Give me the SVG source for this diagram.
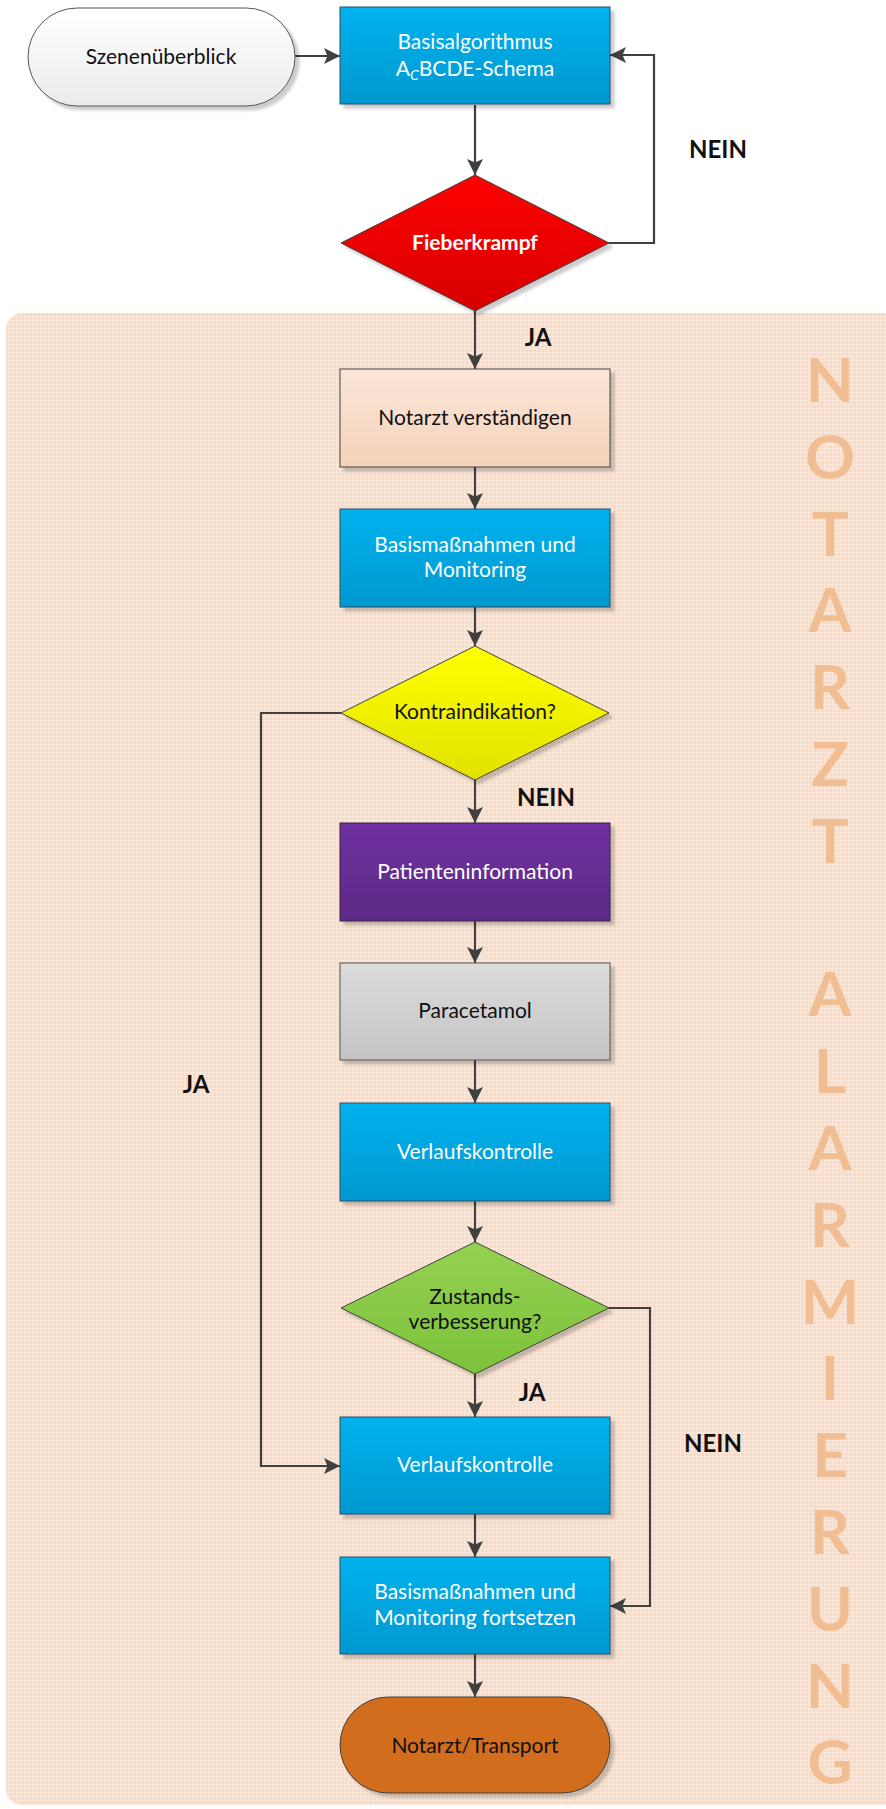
<svg xmlns="http://www.w3.org/2000/svg" width="886" height="1809" viewBox="0 0 886 1809">
<defs>
<style>
.t{font-family:Lato,"Open Sans","Liberation Sans",sans-serif;font-size:21px;text-anchor:middle}
.w{fill:#ffffff}
.k{fill:#111111}
.b{font-family:Lato,"Open Sans","Liberation Sans",sans-serif;font-weight:bold;font-size:24px;fill:#111111;text-anchor:middle}
.big{font-family:Lato,"Open Sans","Liberation Sans",sans-serif;font-weight:bold;font-size:62px;fill:#F1BE94;text-anchor:middle}
.c{fill:none;stroke:#404040;stroke-width:2.2}
.sh{filter:url(#shadow)}
</style>
<pattern id="grid" width="4" height="4" patternUnits="userSpaceOnUse">
<rect width="4" height="4" fill="#F8DBC5"/>
<rect width="4" height="1" fill="#FBE8DA"/>
<rect width="1" height="4" fill="#FBE8DA"/>
</pattern>
<linearGradient id="gBlue" x1="0" y1="0" x2="0" y2="1"><stop offset="0" stop-color="#00B2EE"/><stop offset="1" stop-color="#0098D0"/></linearGradient>
<linearGradient id="gWhite" x1="0" y1="0" x2="0" y2="1"><stop offset="0" stop-color="#FFFFFF"/><stop offset="1" stop-color="#EBEBEB"/></linearGradient>
<linearGradient id="gRed" x1="0" y1="0" x2="0" y2="1"><stop offset="0" stop-color="#FF0000"/><stop offset="1" stop-color="#D80000"/></linearGradient>
<linearGradient id="gPeach" x1="0" y1="0" x2="0" y2="1"><stop offset="0" stop-color="#FAE6D8"/><stop offset="1" stop-color="#F5D2BA"/></linearGradient>
<linearGradient id="gYellow" x1="0" y1="0" x2="0" y2="1"><stop offset="0" stop-color="#FFFF00"/><stop offset="1" stop-color="#E2E200"/></linearGradient>
<linearGradient id="gPurple" x1="0" y1="0" x2="0" y2="1"><stop offset="0" stop-color="#7030A0"/><stop offset="1" stop-color="#5C2A86"/></linearGradient>
<linearGradient id="gGrey" x1="0" y1="0" x2="0" y2="1"><stop offset="0" stop-color="#DCDCDC"/><stop offset="1" stop-color="#C4C4C4"/></linearGradient>
<linearGradient id="gGreen" x1="0" y1="0" x2="0" y2="1"><stop offset="0" stop-color="#95D152"/><stop offset="1" stop-color="#7CC23A"/></linearGradient>
<filter id="shadow" x="-10%" y="-10%" width="130%" height="130%">
<feDropShadow dx="4" dy="4" stdDeviation="1.5" flood-color="#000000" flood-opacity="0.2"/>
</filter>
<marker id="arr" markerUnits="userSpaceOnUse" markerWidth="18" markerHeight="18" refX="16" refY="8" orient="auto">
<path d="M0,0 L16,8 L0,16 L3.5,8 Z" fill="#404040"/>
</marker>
</defs>

<rect x="0" y="0" width="886" height="1809" fill="#FFFFFF"/>
<g id="background">
<rect x="6" y="313" width="896" height="1492" rx="16" fill="url(#grid)"/>
<text class="big" x="830" y="402">N</text>
<text class="big" x="830" y="479">O</text>
<text class="big" x="830" y="556">T</text>
<text class="big" x="830" y="632">A</text>
<text class="big" x="830" y="709">R</text>
<text class="big" x="830" y="786">Z</text>
<text class="big" x="830" y="863">T</text>
<text class="big" x="830" y="1016">A</text>
<text class="big" x="830" y="1093">L</text>
<text class="big" x="830" y="1170">A</text>
<text class="big" x="830" y="1247">R</text>
<text class="big" x="830" y="1324">M</text>
<text class="big" x="830" y="1400">I</text>
<text class="big" x="830" y="1477">E</text>
<text class="big" x="830" y="1554">R</text>
<text class="big" x="830" y="1631">U</text>
<text class="big" x="830" y="1708">N</text>
<text class="big" x="830" y="1784">G</text>
</g>

<g id="connectors">
<path class="c" d="M295,56 L340,56" marker-end="url(#arr)"/>
<path class="c" d="M475,105 L475,175" marker-end="url(#arr)"/>
<path class="c" d="M609,243 L654,243 L654,55 L610,55" marker-end="url(#arr)"/>
<path class="c" d="M475,311 L475,369" marker-end="url(#arr)"/>
<path class="c" d="M475,467 L475,509" marker-end="url(#arr)"/>
<path class="c" d="M475,607 L475,646" marker-end="url(#arr)"/>
<path class="c" d="M475,780 L475,823" marker-end="url(#arr)"/>
<path class="c" d="M341,713 L261,713 L261,1466 L340,1466" marker-end="url(#arr)"/>
<path class="c" d="M475,921 L475,963" marker-end="url(#arr)"/>
<path class="c" d="M475,1060 L475,1103" marker-end="url(#arr)"/>
<path class="c" d="M475,1201 L475,1242" marker-end="url(#arr)"/>
<path class="c" d="M475,1374 L475,1417" marker-end="url(#arr)"/>
<path class="c" d="M609,1308 L650,1308 L650,1606 L610,1606" marker-end="url(#arr)"/>
<path class="c" d="M475,1514 L475,1557" marker-end="url(#arr)"/>
<path class="c" d="M475,1654 L475,1697" marker-end="url(#arr)"/>
<text class="b" x="718" y="158">NEIN</text>
<text class="b" x="538" y="346">JA</text>
<text class="b" x="546" y="806">NEIN</text>
<text class="b" x="196" y="1093">JA</text>
<text class="b" x="532" y="1401">JA</text>
<text class="b" x="713" y="1452">NEIN</text>
</g>

<g id="n-szenen">
<rect class="sh" x="28" y="8" width="267" height="98" rx="49" fill="url(#gWhite)" stroke="#555555" stroke-width="1"/>
<text class="t k" x="161" y="64">Szenenüberblick</text>
</g>
<g id="n-basisalgorithmus">
<rect class="sh" x="340" y="7" width="270" height="97" fill="url(#gBlue)" stroke="#2E4D66" stroke-width="1"/>
<text class="t w" x="475" y="49">Basisalgorithmus</text>
<text class="t w" x="475" y="76">A<tspan font-size="14" font-style="italic" dy="4">C</tspan><tspan dy="-4">BCDE-Schema</tspan></text>
</g>
<g id="n-fieberkrampf">
<polygon class="sh" points="475,175 609,243 475,311 341,243" fill="url(#gRed)" stroke="#404040" stroke-width="1"/>
<text class="t w" x="475" y="250" font-weight="bold">Fieberkrampf</text>
</g>
<g id="n-notarzt">
<rect class="sh" x="340" y="369" width="270" height="98" fill="url(#gPeach)" stroke="#404040" stroke-width="1"/>
<text class="t k" x="475" y="425">Notarzt verständigen</text>
</g>
<g id="n-basismassnahmen">
<rect class="sh" x="340" y="509" width="270" height="98" fill="url(#gBlue)" stroke="#2E4D66" stroke-width="1"/>
<text class="t w" x="475" y="552">Basismaßnahmen und</text>
<text class="t w" x="475" y="577">Monitoring</text>
</g>
<g id="n-kontraindikation">
<polygon class="sh" points="475,646 609,713 475,780 341,713" fill="url(#gYellow)" stroke="#404040" stroke-width="1"/>
<text class="t k" x="475" y="719">Kontraindikation?</text>
</g>
<g id="n-patienteninformation">
<rect class="sh" x="340" y="823" width="270" height="98" fill="url(#gPurple)" stroke="#3A2050" stroke-width="1"/>
<text class="t w" x="475" y="879">Patienteninformation</text>
</g>
<g id="n-paracetamol">
<rect class="sh" x="340" y="963" width="270" height="97" fill="url(#gGrey)" stroke="#555555" stroke-width="1"/>
<text class="t k" x="475" y="1018">Paracetamol</text>
</g>
<g id="n-verlauf1">
<rect class="sh" x="340" y="1103" width="270" height="98" fill="url(#gBlue)" stroke="#2E4D66" stroke-width="1"/>
<text class="t w" x="475" y="1159">Verlaufskontrolle</text>
</g>
<g id="n-zustand">
<polygon class="sh" points="475,1242 609,1308 475,1374 341,1308" fill="url(#gGreen)" stroke="#404040" stroke-width="1"/>
<text class="t k" x="475" y="1304">Zustands-</text>
<text class="t k" x="475" y="1329">verbesserung?</text>
</g>
<g id="n-verlauf2">
<rect class="sh" x="340" y="1417" width="270" height="97" fill="url(#gBlue)" stroke="#2E4D66" stroke-width="1"/>
<text class="t w" x="475" y="1472">Verlaufskontrolle</text>
</g>
<g id="n-fortsetzen">
<rect class="sh" x="340" y="1557" width="270" height="97" fill="url(#gBlue)" stroke="#2E4D66" stroke-width="1"/>
<text class="t w" x="475" y="1599">Basismaßnahmen und</text>
<text class="t w" x="475" y="1625">Monitoring fortsetzen</text>
</g>
<g id="n-transport">
<rect class="sh" x="340" y="1697" width="270" height="96" rx="48" fill="#D16D1B" stroke="#404040" stroke-width="1"/>
<text class="t k" x="475" y="1753">Notarzt/Transport</text>
</g>
</svg>
